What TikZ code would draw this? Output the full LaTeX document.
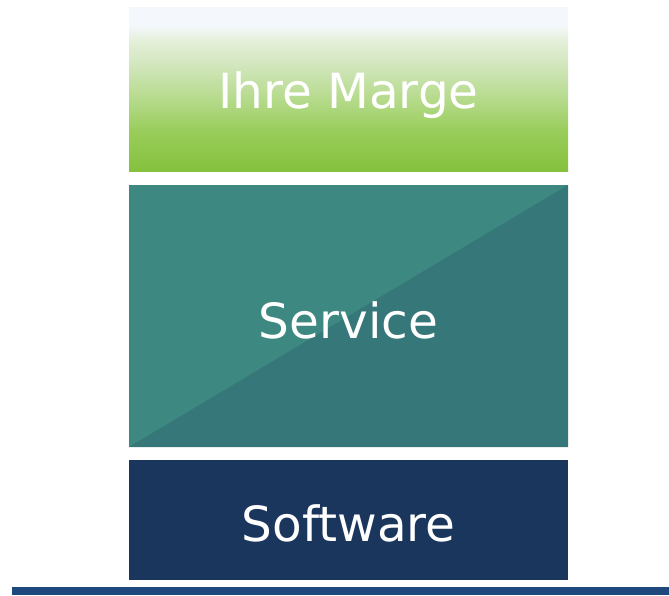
\documentclass[tikz,border=0pt]{standalone}
\usepackage{fontspec}
\setmainfont{DejaVu Sans}
\definecolor{gTop}{HTML}{F4F8FC}
\definecolor{gA}{HTML}{E4EFD9}
\definecolor{gB}{HTML}{D5E8C3}
\definecolor{gC}{HTML}{B5DA8A}
\definecolor{gD}{HTML}{9ACD5C}
\definecolor{gBot}{HTML}{84C13C}
\definecolor{svcLight}{HTML}{3D8880}
\definecolor{svcDark}{HTML}{36777A}
\definecolor{swBlue}{HTML}{1B365D}
\definecolor{lineBlue}{HTML}{1F497D}
\pgfdeclareverticalshading{marge}{100bp}{color(0bp)=(gBot); color(25bp)=(gBot); color(37.8bp)=(gD); color(47bp)=(gC); color(59bp)=(gB); color(65bp)=(gA); color(69.8bp)=(gTop); color(100bp)=(gTop)}
\tikzset{
  block/.style={minimum width=439pt, inner sep=0pt, outer sep=0pt, draw=none},
  label/.style={text=white, inner sep=0pt, font=\fontsize{48.5}{52}\selectfont},
}
\begin{document}
\begin{tikzpicture}[x=1pt,y=1pt]
\useasboundingbox (0,0) rectangle (669,595);
% top gradient box
\node[block, minimum height=164pt, shading=marge] (marge) at (348.5,505) {};
\node[label] (margeT) at (348.5,500) {Ihre Marge};
% service box with diagonal split
\node[block, minimum height=262pt, fill=svcLight] (service) at (348.5,279) {};
\fill[svcDark] (service.south west) -- (service.north east) -- (service.south east) -- cycle;
\node[label] (serviceT) at (348.5,275) {Service};
% software box
\node[block, minimum height=120pt, fill=swBlue] (software) at (348.5,75) {};
\node[label] (softwareT) at (348.5,72) {Software};
% bottom line
\node[inner sep=0pt, outer sep=0pt, minimum width=657pt, minimum height=8pt, fill=lineBlue] (base) at (340.5,4) {};
\end{tikzpicture}
\end{document}
